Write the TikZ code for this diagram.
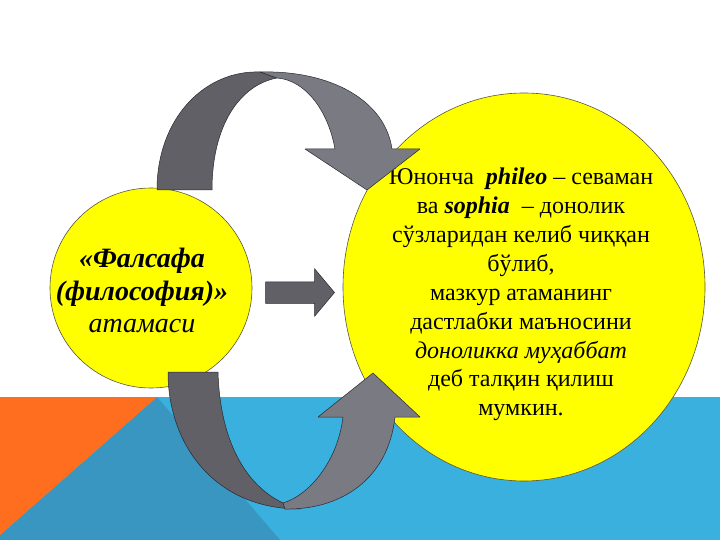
\documentclass[tikz,border=0pt]{standalone}
\usepackage{fontspec}
\setmainfont{Liberation Serif}
\usetikzlibrary{positioning, shapes.geometric, shapes.arrows}
\definecolor{mybandblue}{RGB}{57,176,221}
\definecolor{mydeepblue}{RGB}{56,150,192}
\definecolor{myorange}{RGB}{255,110,30}
\definecolor{myyellow}{RGB}{255,255,0}
\definecolor{myarrowdark}{RGB}{96,96,102}
\definecolor{myarrowlight}{RGB}{122,122,130}
\definecolor{myoutline}{RGB}{40,40,50}

\begin{document}
\begin{tikzpicture}[x=1pt, y=-1pt, bubble/.style={ellipse, draw=black!75!yellow, fill=myyellow, line width=0.6pt, inner sep=0pt}, ribbon/.style={draw=myoutline, line width=0.5pt, line join=round}, body/.style={align=center, text=black}]
  % background
  \useasboundingbox (0,0) rectangle (720,540);
  \fill[white] (0,0) rectangle (720,540);
  \fill[mybandblue] (0,397) rectangle (720,540);
  \fill[mydeepblue] (157,397) -- (280,540) -- (0,540) -- (0,535) -- cycle;
  \fill[myorange] (0,397) -- (157,397) -- (0,535) -- cycle;

  % nodes
  \node [bubble, minimum width=202pt, minimum height=200pt] (term) at (151,288) {};
  \node [bubble, minimum width=362pt, minimum height=388pt] (meaning) at (524,287) {};

  \node [body, font=\fontsize{28}{32.5}\selectfont] (termtext) at (142,290.5) {\textbf{\textit{«Фалсафа}}\\ \textbf{\textit{(философия)»}}\\ \textit{атамаси}};
  \node [body, font=\fontsize{24}{28.9}\selectfont] (meaningtext) at (521,294.5) {Юнонча \ \textbf{\textit{phileo}} – севаман\\ ва \textbf{\textit{sophia}} \ – донолик\\ сўзларидан келиб чиққан\\ бўлиб,\\ мазкур атаманинг\\ дастлабки маъносини\\ \textit{доноликка муҳаббат}\\ деб талқин қилиш\\ мумкин.};

  % arrows
  \node [single arrow, draw=myoutline, fill=myarrowdark, line width=0.5pt, minimum height=69pt, inner xsep=0pt, inner ysep=10.5pt, single arrow head extend=13pt, single arrow tip angle=100] (link) at (295.5,292.5) {};

  % top ribbon
  \draw [ribbon, fill=myarrowdark] (157,190) .. controls (157,118) and (205,70) .. (260,72) -- (277,78) .. controls (240,85) and (212,125) .. (212,190) -- cycle;
  \draw [ribbon, fill=myarrowlight] (260,72) .. controls (330,70) and (385,100) .. (392,149) -- (420,149) -- (367,190) -- (305,149) -- (335,149) .. controls (328,110) and (305,80) .. (277,78) -- cycle;

  % bottom ribbon
  \draw [ribbon, fill=myarrowdark] (168,372) -- (218,372) .. controls (220,440) and (245,485) .. (283,503) -- (300,509) .. controls (215,509) and (168,445) .. (168,372) -- cycle;
  \draw [ribbon, fill=myarrowlight] (283,503) .. controls (310,495) and (338,460) .. (343,417) -- (318,417) -- (373,373) -- (420,417) -- (395,417) .. controls (388,480) and (340,510) .. (285,509) -- cycle;
\end{tikzpicture}
\end{document}
